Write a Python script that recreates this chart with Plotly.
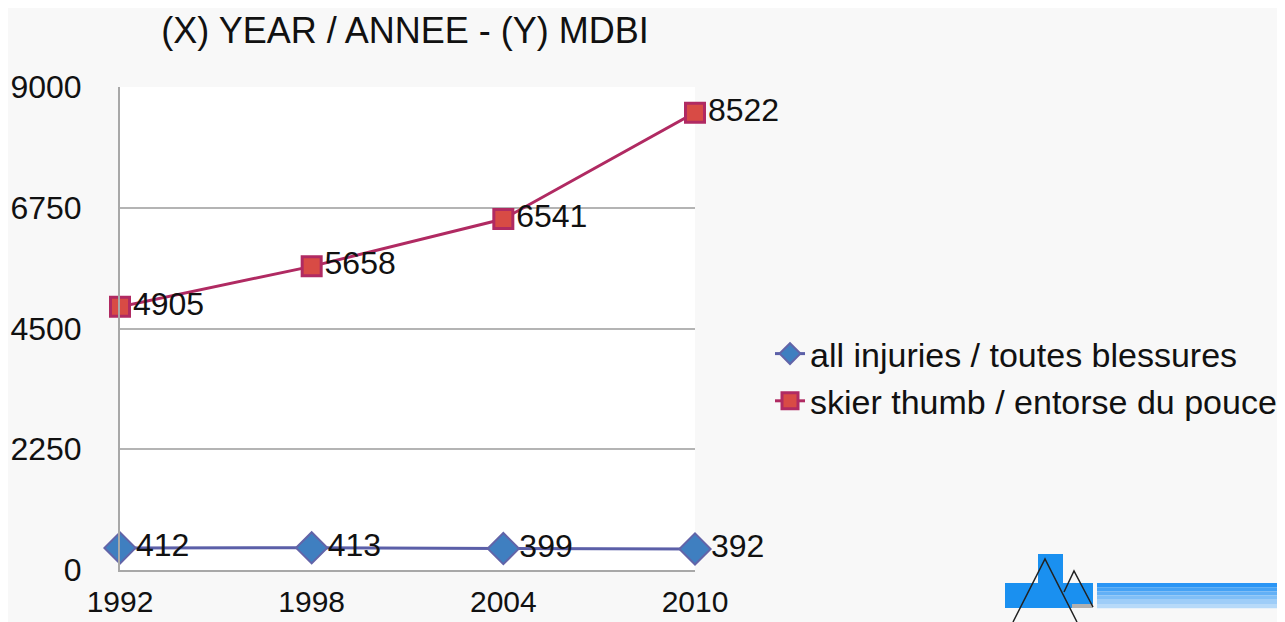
import plotly.graph_objects as go

years = [1992, 1998, 2004, 2010]
all_injuries = [412, 413, 399, 392]
skier_thumb = [4905, 5658, 6541, 8522]
series_names = ["all injuries / toutes blessures", "skier thumb / entorse du pouce"]
y_ticks = [0, 2250, 4500, 6750, 9000]
title_text = "(X) YEAR / ANNEE - (Y) MDBI"

# page body has an 8px margin; figure fills the rest of the 1285x622 window
OFF = 8
W, H = 1285 - OFF, 622 - OFF
SL, SR, ST, SB = 120, 695, 87, 570   # plot area in screen pixels
FONT = "Liberation Sans, Arial, sans-serif"

def px(x):
    return (x - SL) / (SR - SL)

def py(y):
    return (SB - y) / (SB - ST)

fig = go.Figure()
fig.add_trace(go.Scatter(
    x=years, y=all_injuries, name=series_names[0], mode="lines+markers+text",
    text=[str(v) for v in all_injuries], textposition="middle right",
    textfont=dict(size=32, color="#111111", family=FONT),
    line=dict(color="#5b5fa8", width=3),
    marker=dict(symbol="diamond", size=24, color="#3f7fc0", line=dict(color="#6264a8", width=2)),
    cliponaxis=False,
))
fig.add_trace(go.Scatter(
    x=years, y=skier_thumb, name=series_names[1], mode="lines+markers+text",
    text=[str(v) for v in skier_thumb], textposition="middle right",
    textfont=dict(size=32, color="#111111", family=FONT),
    line=dict(color="#b02a62", width=3),
    marker=dict(symbol="square", size=19, color="#d84b45", line=dict(color="#b02a62", width=3)),
    cliponaxis=False,
))

shapes = []
def rect(x0, y0, x1, y1, color):
    shapes.append(dict(type="rect", xref="paper", yref="paper",
                       x0=px(x0), x1=px(x1), y0=py(y1), y1=py(y0),
                       fillcolor=color, line=dict(width=0), layer="above"))

rect(1038, 554, 1063, 608, "#1a90f0")
rect(1005, 583, 1093, 608, "#1a90f0")
grad = ["#2a95f5", "#45a2f5", "#62b0f6", "#80bff7", "#9ecdf8", "#b7daf9"]
for i, c in enumerate(grad):
    rect(1097, 583 + i * 4.2, 1285, 583 + (i + 1) * 4.2, c)
rect(1072, 604, 1093, 608, "#b0b0b0")

def path(points):
    d = "M " + " L ".join(f"{px(x)},{py(y)}" for x, y in points)
    shapes.append(dict(type="path", xref="paper", yref="paper", path=d,
                       line=dict(color="#222222", width=1.5), layer="above"))

path([(1013, 622), (1045, 559), (1077, 622)])
path([(1064, 592), (1074, 571), (1093, 607)])

fig.update_layout(
    width=W, height=H,
    margin=dict(l=SL - OFF, r=W - (SR - OFF), t=ST - OFF, b=H - (SB - OFF), autoexpand=False),
    paper_bgcolor="#f8f8f8", plot_bgcolor="#ffffff",
    title=dict(text=title_text, x=px(405), xanchor="center", xref="paper",
               y=1 - (30 - OFF) / H, yanchor="middle",
               font=dict(size=36, color="#111111", family=FONT)),
    font=dict(family=FONT, color="#111111"),
    showlegend=True,
    legend=dict(x=px(770), y=py(325), xanchor="left", yanchor="top",
                font=dict(size=34, color="#111111", family=FONT),
                bgcolor="rgba(0,0,0,0)", itemwidth=30, tracegroupgap=0),
    shapes=shapes,
)
fig.update_xaxes(range=[1992, 2010], tickvals=years, ticktext=[str(y) for y in years],
                 showgrid=False, zeroline=False, showline=True, linecolor="#a8a8a8", linewidth=2,
                 ticks="", ticklabelstandoff=4, automargin=False,
                 tickfont=dict(size=30, color="#111111", family=FONT))
fig.update_yaxes(range=[0, 9000], tickvals=y_ticks, showgrid=True, gridcolor="#b4b4b4", gridwidth=2,
                 zeroline=False, showline=True, linecolor="#a8a8a8", linewidth=2,
                 ticks="", ticklabelstandoff=30, automargin=False,
                 tickfont=dict(size=32, color="#111111", family=FONT))

fig.write_html("out.html")
